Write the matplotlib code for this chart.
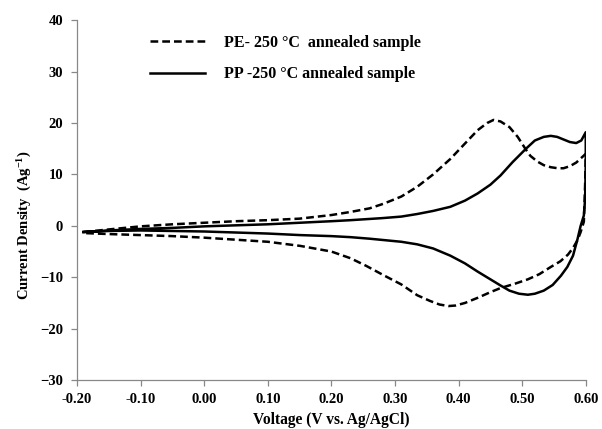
import numpy as np
import matplotlib.pyplot as plt

plt.rcParams['font.family'] = ['Liberation Serif', 'DejaVu Serif']
plt.rcParams['font.weight'] = 'bold'
plt.rcParams['mathtext.fontset'] = 'custom'
plt.rcParams['mathtext.rm'] = 'Liberation Serif:bold'
plt.rcParams['mathtext.it'] = 'Liberation Serif:bold'
plt.rcParams['mathtext.bf'] = 'Liberation Serif:bold'

# PE - 250 C annealed sample (dashed), closed CV loop
pe_v = [-0.19, -0.15, -0.10, -0.05, 0.00, 0.05, 0.10, 0.15, 0.20, 0.23, 0.26, 0.282, 0.31, 0.335,
        0.36, 0.387, 0.41, 0.43, 0.445, 0.455, 0.466, 0.48, 0.493, 0.506, 0.513, 0.524, 0.534,
        0.545, 0.556, 0.565, 0.575, 0.585, 0.592, 0.60,
        0.599, 0.597, 0.592, 0.587, 0.58, 0.572, 0.56, 0.545, 0.527, 0.509, 0.49, 0.466, 0.45,
        0.43, 0.41, 0.395, 0.384, 0.37, 0.355, 0.335, 0.31, 0.282, 0.255, 0.23, 0.20, 0.151,
        0.10, 0.05, 0.00, -0.05, -0.10, -0.15, -0.19]
pe_i = [-1.2, -0.7, -0.1, 0.3, 0.6, 0.9, 1.1, 1.4, 2.1, 2.7, 3.4, 4.3, 5.7, 7.6,
        10.0, 13.0, 16.0, 18.6, 20.0, 20.6, 20.3, 19.2, 17.3, 14.8, 13.6, 12.5, 11.8,
        11.4, 11.2, 11.2, 11.6, 12.3, 13.1, 14.0,
        8.0, 0.8, -1.2, -2.8, -4.3, -5.6, -6.9, -8.0, -9.4, -10.4, -11.2, -12.1, -12.9,
        -14.0, -15.0, -15.5, -15.6, -15.3, -14.6, -13.5, -11.4, -9.6, -7.8, -6.3, -5.0, -3.9,
        -3.1, -2.7, -2.3, -2.0, -1.8, -1.6, -1.4]

# PP - 250 C annealed sample (solid), closed CV loop
pp_v = [-0.19, -0.15, -0.10, -0.05, 0.00, 0.05, 0.10, 0.15, 0.20, 0.23, 0.28, 0.31, 0.335, 0.36,
        0.387, 0.41, 0.43, 0.45, 0.466, 0.485, 0.506, 0.52, 0.534, 0.545, 0.555, 0.565, 0.575,
        0.585, 0.593, 0.60,
        0.600, 0.599, 0.597, 0.592, 0.587, 0.58, 0.571, 0.561, 0.548, 0.534, 0.52, 0.509,
        0.495, 0.48, 0.466, 0.45, 0.43, 0.41, 0.387, 0.36, 0.335, 0.31, 0.26, 0.23, 0.20,
        0.151, 0.10, 0.05, 0.00, -0.05, -0.10, -0.15, -0.19]
pp_i = [-1.2, -0.9, -0.6, -0.4, -0.1, 0.1, 0.3, 0.6, 0.9, 1.1, 1.5, 1.8, 2.3, 2.9,
        3.7, 4.9, 6.3, 8.0, 9.8, 12.4, 15.0, 16.6, 17.3, 17.5, 17.3, 16.8, 16.3,
        16.1, 16.6, 18.2,
        12.0, 5.2, 2.0, 0.0, -2.6, -5.8, -8.0, -9.7, -11.5, -12.6, -13.2, -13.4,
        -13.2, -12.6, -11.6, -10.4, -8.9, -7.3, -5.8, -4.4, -3.6, -3.1, -2.5, -2.2, -2.0,
        -1.8, -1.5, -1.3, -1.1, -1.0, -0.9, -1.0, -1.2]

fig = plt.figure(figsize=(6.02, 4.29), dpi=100)
ax = fig.add_axes([0.128, 0.114, 0.845, 0.839])

ax.plot(pe_v, pe_i, color='black', lw=1.8, ls=(0, (3.1, 1.6)), label='PE- 250 \u00b0C  annealed sample')
ax.plot(pp_v, pp_i, color='black', lw=1.8, label='PP -250 \u00b0C annealed sample')

ax.set_xlim(-0.2, 0.6)
ax.set_ylim(-30, 40)
ax.set_xticks(np.arange(-0.2, 0.61, 0.1))
ax.set_xticklabels(['%.2f' % v for v in np.arange(-0.2, 0.61, 0.1)])
ax.set_yticks(np.arange(-30, 41, 10))

for s in ['top', 'right']:
    ax.spines[s].set_visible(False)
for s in ['left', 'bottom']:
    ax.spines[s].set_color('#888888')
    ax.spines[s].set_linewidth(0.9)
ax.tick_params(axis='both', colors='#888888', length=4, width=0.9, labelcolor='black', labelsize=10.5)
ax.tick_params(axis='x', pad=5.5)
ax.tick_params(axis='y', pad=6)

ax.set_xlabel('Voltage (V vs. Ag/AgCl)', fontsize=11.2, fontweight='bold')
ax.set_ylabel(r'Current Density  (Ag$^{-1}$)', fontsize=10.5, fontweight='bold')
ax.xaxis.set_label_coords(0.5, -0.09)
ax.yaxis.set_label_coords(-0.085, 0.43)

ax.legend(loc='upper left', bbox_to_anchor=(150 / 602, 1 - 35 / 429), bbox_transform=fig.transFigure,
          frameon=False, fontsize=11.5, handlelength=3.45, handletextpad=1.2, labelspacing=0.95,
          borderpad=0, borderaxespad=0)

fig.savefig('out.png', dpi=100)
